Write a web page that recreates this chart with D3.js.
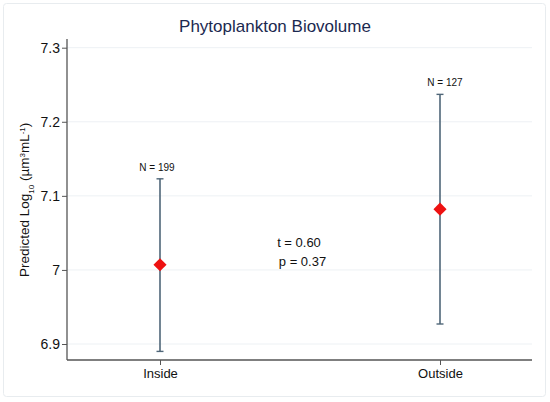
<!DOCTYPE html>
<html>
<head>
<meta charset="utf-8">
<script src="https://cdn.jsdelivr.net/npm/d3@7"></script>
<style>
  html, body { margin: 0; padding: 0; background: #fff; }
  svg text { font-family: "Liberation Sans", Arial, sans-serif; }
</style>
</head>
<body>
<div id="chart"></div>
<script>
// chart values
const groups = ["Inside", "Outside"];
const means = [7.007, 7.082];
const lower = [6.890, 6.927];
const upper = [7.123, 7.237];
const counts = ["N = 199", "N = 127"];
const yTicks = [6.9, 7, 7.1, 7.2, 7.3];
const yTickLabels = ["6.9", "7", "7.1", "7.2", "7.3"];
const statLines = ["t = 0.60", "p = 0.37"];
const statValues = [7.0365, 7.0118];

const width = 550, height = 402;
const margin = { top: 39, right: 18, bottom: 42, left: 67 };

const svg = d3.select('#chart').append('svg')
    .attr('width', width)
    .attr('height', height);

// outer frame of the graph region
svg.append('rect')
    .attr('x', 3.5).attr('y', 3.5)
    .attr('width', 542).attr('height', 393)
    .attr('rx', 3)
    .attr('fill', '#fff')
    .attr('stroke', '#e8ecef');

const x = d3.scalePoint()
    .domain(groups)
    .range([160, 440]);

// 6.9 -> 344, 7.3 -> 47.7
const y = d3.scaleLinear()
    .domain([6.9, 7.3])
    .range([344, 47.7]);

const plotLeft = margin.left, plotRight = width - margin.right;
const plotBottom = height - margin.bottom;

// gridlines
svg.append('g')
    .selectAll('line')
    .data(yTicks)
    .enter()
    .append('line')
    .attr('x1', plotLeft).attr('x2', plotRight)
    .attr('y1', d => y(d)).attr('y2', d => y(d))
    .attr('stroke', '#edf1f4')
    .attr('stroke-width', 1);

// y axis
const yAxis = svg.append('g')
    .attr('transform', `translate(${plotLeft},0)`)
    .call(d3.axisLeft(y).tickValues(yTicks).tickFormat((d, i) => yTickLabels[i]).tickSize(5).tickSizeOuter(0));
yAxis.select('.domain').remove();
yAxis.append('line')
    .attr('x1', 0).attr('x2', 0)
    .attr('y1', margin.top).attr('y2', plotBottom)
    .attr('stroke', '#555').attr('stroke-width', 1.3);
yAxis.selectAll('.tick line').attr('stroke', '#555');
yAxis.selectAll('.tick text')
    .attr('fill', '#111')
    .style('font-size', '14px')
    .attr('x', -7);

// x axis
const xAxis = svg.append('g')
    .attr('transform', `translate(0,${plotBottom})`)
    .call(d3.axisBottom(x).tickSize(5).tickSizeOuter(0));
xAxis.select('.domain').remove();
xAxis.append('line')
    .attr('x1', plotLeft).attr('x2', plotRight)
    .attr('y1', 0).attr('y2', 0)
    .attr('stroke', '#555').attr('stroke-width', 1.3);
xAxis.selectAll('.tick line').attr('stroke', '#555');
xAxis.selectAll('.tick text')
    .attr('fill', '#111')
    .style('font-size', '13px')
    .attr('y', 9);

// error bars
const barColor = '#4f6678';
const cap = 3.5;
const bars = svg.append('g')
    .selectAll('g')
    .data(groups)
    .enter()
    .append('g');

bars.append('line')
    .attr('x1', d => x(d)).attr('x2', d => x(d))
    .attr('y1', (d, i) => y(upper[i])).attr('y2', (d, i) => y(lower[i]))
    .attr('stroke', barColor).attr('stroke-width', 1.6);
bars.append('line')
    .attr('x1', d => x(d) - cap).attr('x2', d => x(d) + cap)
    .attr('y1', (d, i) => y(upper[i])).attr('y2', (d, i) => y(upper[i]))
    .attr('stroke', barColor).attr('stroke-width', 1.4);
bars.append('line')
    .attr('x1', d => x(d) - cap).attr('x2', d => x(d) + cap)
    .attr('y1', (d, i) => y(lower[i])).attr('y2', (d, i) => y(lower[i]))
    .attr('stroke', barColor).attr('stroke-width', 1.4);

// diamond markers
const diamond = d3.symbol().type(d3.symbolDiamond2).size(110);
bars.append('path')
    .attr('d', diamond)
    .attr('transform', (d, i) => `translate(${x(d)},${y(means[i])})`)
    .attr('fill', '#ee1111');

// N labels above the caps
bars.append('text')
    .attr('x', (d, i) => x(d) + (i === 0 ? -3 : 5))
    .attr('y', (d, i) => y(upper[i]) - 8)
    .attr('text-anchor', 'middle')
    .attr('fill', '#111')
    .style('font-size', '10px')
    .text((d, i) => counts[i]);

// test statistics
const midX = (x(groups[0]) + x(groups[1])) / 2;
svg.append('g')
    .selectAll('text')
    .data(statLines)
    .enter()
    .append('text')
    .attr('x', (d, i) => midX + (i === 0 ? -1 : 2.5))
    .attr('y', (d, i) => y(statValues[i]))
    .attr('dy', '0.35em')
    .attr('text-anchor', 'middle')
    .attr('fill', '#111')
    .style('font-size', '13px')
    .text(d => d);

// title
svg.append('text')
    .attr('x', 275).attr('y', 32)
    .attr('text-anchor', 'middle')
    .attr('fill', '#1b2950')
    .style('font-size', '17px')
    .text('Phytoplankton Biovolume');

// y axis title
const yTitle = svg.append('text')
    .attr('transform', `translate(29,${(y(6.9) + y(7.3)) / 2 + 4}) rotate(-90)`)
    .attr('text-anchor', 'middle')
    .attr('fill', '#111')
    .style('font-size', '13.5px');
yTitle.append('tspan').text('Predicted Log');
yTitle.append('tspan').attr('baseline-shift', 'sub').style('font-size', '8px').text('10');
yTitle.append('tspan').text(' (µm');
yTitle.append('tspan').attr('baseline-shift', 'super').style('font-size', '8px').text('3');
yTitle.append('tspan').text('mL');
yTitle.append('tspan').attr('baseline-shift', 'super').style('font-size', '8px').text('-1');
yTitle.append('tspan').text(')');
</script>
</body>
</html>
